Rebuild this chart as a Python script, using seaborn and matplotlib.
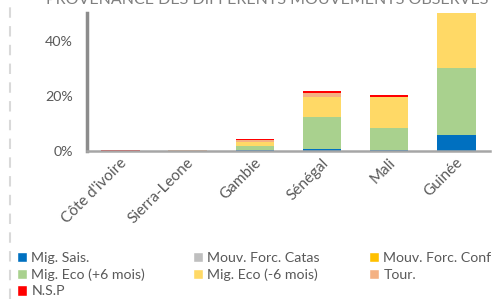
import numpy as np
import pandas as pd
import seaborn as sns
import matplotlib.pyplot as plt
import matplotlib.transforms as mtrans
from matplotlib.patches import Patch
from matplotlib.lines import Line2D

# -----------------------------
# Data (values in %)
# -----------------------------
countries = ["Côte d'ivoire", "Sierra-Leone", "Gambie", "Sénégal", "Mali", "Guinée"]
mig_sais = [0.0, 0.0, 0.4, 0.7, 0.2, 5.8]
forc_catas = [0.0, 0.0, 0.0, 0.0, 0.0, 0.0]
forc_conf = [0.0, 0.0, 0.0, 0.0, 0.0, 0.0]
eco_plus6 = [0.0, 0.0, 1.5, 11.5, 8.0, 24.5]
eco_moins6 = [0.0, 0.0, 1.5, 7.5, 11.4, 19.9]
tour = [0.1, 0.3, 0.5, 1.3, 0.0, 0.0]
nsp = [0.1, 0.0, 0.5, 0.8, 0.6, 0.0]

series = [
    ("Mig. Sais.", mig_sais, "#0070C0"),
    ("Mouv. Forc. Catas", forc_catas, "#BFBFBF"),
    ("Mouv. Forc. Conf", forc_conf, "#FFC000"),
    ("Mig. Eco (+6 mois)", eco_plus6, "#A9D18E"),
    ("Mig. Eco (-6 mois)", eco_moins6, "#FFD966"),
    ("Tour.", tour, "#F4B183"),
    ("N.S.P", nsp, "#FF0000"),
]

# -----------------------------
# Style
# -----------------------------
sns.set_theme(style="white")
plt.rcParams["font.family"] = ["Lato", "DejaVu Sans"]
grey_txt = "#595959"

fig = plt.figure(figsize=(4.96, 2.99), dpi=100)
ax = fig.add_axes([0.175, 0.495, 0.813, 0.4615])

# -----------------------------
# Stacked bars
# -----------------------------
bottom = np.zeros(len(countries))
for name, vals, color in series:
    df = pd.DataFrame({"pays": countries, "val": vals})
    sns.barplot(data=df, x="pays", y="val", color=color, width=0.57,
                bottom=bottom, ax=ax, saturation=1, linewidth=0)
    bottom = bottom + np.array(vals)

ax.set_ylim(0, 50.2)
ax.set_yticks([0, 20, 40])
ax.set_yticklabels(["0%", "20%", "40%"])
ax.set_xlabel("")
ax.set_ylabel("")
ax.tick_params(axis="both", length=0, colors=grey_txt)
ax.tick_params(axis="y", pad=10, labelsize=10.3)
ax.tick_params(axis="x", pad=7, labelsize=11)
shift = mtrans.ScaledTranslation(4 / 100, 0, fig.dpi_scale_trans)
for lab in ax.get_xticklabels():
    lab.set_rotation(45)
    lab.set_ha("right")
    lab.set_va("center")
    lab.set_rotation_mode("anchor")
    lab.set_transform(lab.get_transform() + shift)

for s in ["top", "right"]:
    ax.spines[s].set_visible(False)
ax.spines["left"].set_color("#8C8C8C")
ax.spines["left"].set_linewidth(2.5)
ax.spines["bottom"].set_color("#A6A6A6")
ax.spines["bottom"].set_linewidth(1.8)

# -----------------------------
# Cut-off title and frame line
# -----------------------------
fig.text(0.539, 0.988, "PROVENANCE DES DIFFERENTS MOUVEMENTS OBSERVES",
         ha="center", va="baseline", fontsize=11.5, color="#7F7F7F")
fig.add_artist(Line2D([0.02, 0.02], [0, 1], transform=fig.transFigure,
                      color="#D9D9D9", linewidth=1.5, linestyle=(0, (5, 4))))

# -----------------------------
# Legend (three columns)
# -----------------------------
columns = [[0, 3, 6], [1, 4], [2, 5]]
col_x = [0.034, 0.389, 0.744]
for idx, x0 in zip(columns, col_x):
    handles = [Patch(facecolor=series[i][2], label=series[i][0]) for i in idx]
    fig.legend(handles=handles, loc="upper left", bbox_to_anchor=(x0, 0.156),
               frameon=False, fontsize=10.2, handlelength=0.72,
               handleheight=0.72, handletextpad=0.3, labelspacing=0.3,
               borderaxespad=0, borderpad=0, labelcolor=grey_txt)

plt.savefig("out.png", dpi=100)
plt.close()
